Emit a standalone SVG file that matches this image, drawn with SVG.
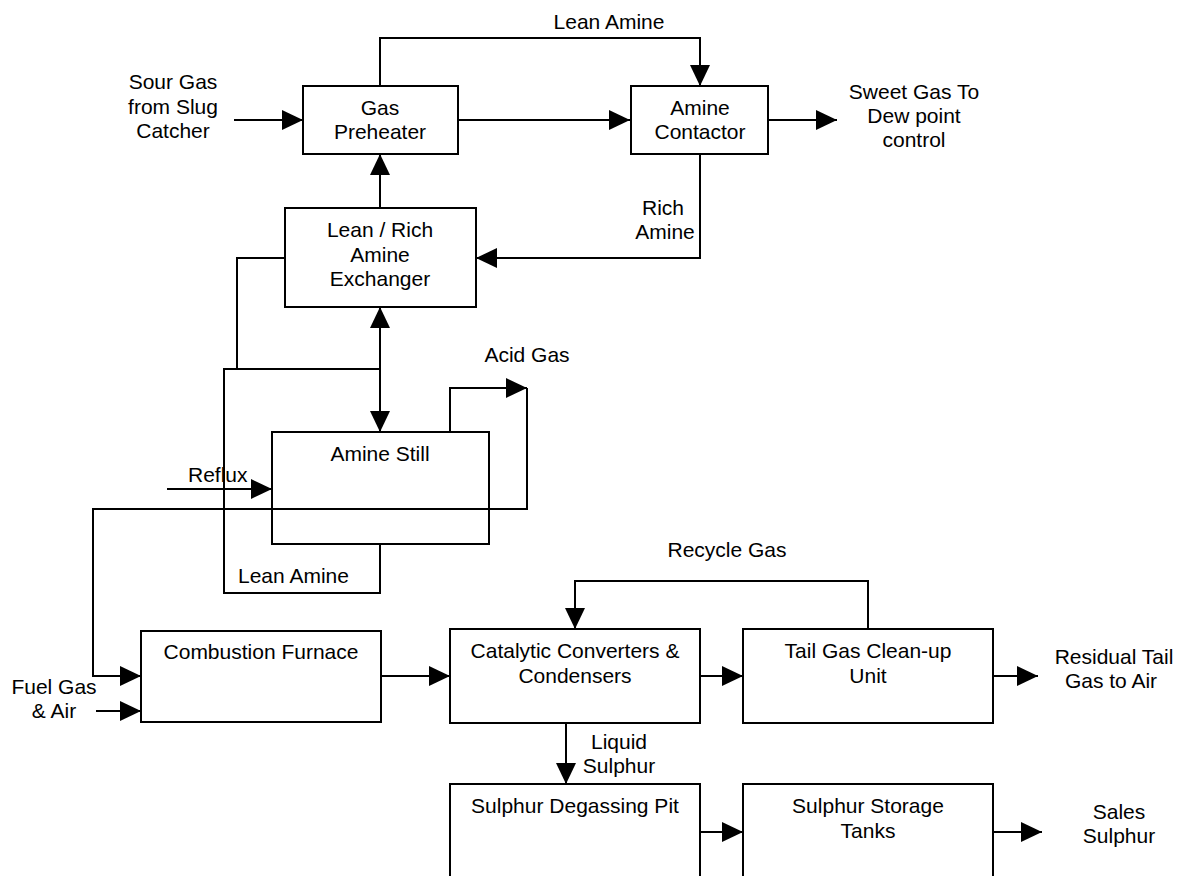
<svg xmlns="http://www.w3.org/2000/svg" width="1185" height="876" viewBox="0 0 1185 876">
<style>
.box{fill:#fff;stroke:#000;stroke-width:2}
.ln{fill:none;stroke:#000;stroke-width:2}
text{font-family:"Liberation Sans",Arial,sans-serif;font-size:21px;fill:#000}
.c{text-anchor:middle}
</style>
<defs>
<marker id="ah" markerUnits="userSpaceOnUse" markerWidth="21" markerHeight="20" refX="21" refY="10" orient="auto-start-reverse" viewBox="0 0 21 20">
<path d="M0,0 L21,10 L0,20 z" fill="#000"/>
</marker>
</defs>
<rect width="1185" height="876" fill="#fff"/>
<g id="connectors">
<path class="ln" d="M234,120 H303" marker-end="url(#ah)"/>
<path class="ln" d="M458,120 H630" marker-end="url(#ah)"/>
<path class="ln" d="M768,120 H837" marker-end="url(#ah)"/>
<path class="ln" d="M380,86 V38 H700 V86" marker-end="url(#ah)"/>
<path class="ln" d="M700,154 V258 H476" marker-end="url(#ah)"/>
<path class="ln" d="M380,208 V154" marker-end="url(#ah)"/>
<path class="ln" d="M285,258 H237 V369"/>
<path class="ln" d="M380,307 V432" marker-start="url(#ah)" marker-end="url(#ah)"/>
<path class="ln" d="M380,544 V593 H224 V369 H380"/>
<path class="ln" d="M450,432 V388 H527" marker-end="url(#ah)"/>
<path class="ln" d="M527,388 V509 H93 V676 H141" marker-end="url(#ah)"/>
<path class="ln" d="M167,489 H272" marker-end="url(#ah)"/>
<path class="ln" d="M96,711 H141" marker-end="url(#ah)"/>
<path class="ln" d="M381,676 H450" marker-end="url(#ah)"/>
<path class="ln" d="M700,676 H743" marker-end="url(#ah)"/>
<path class="ln" d="M993,676 H1038" marker-end="url(#ah)"/>
<path class="ln" d="M868,629 V581 H575 V629" marker-end="url(#ah)"/>
<path class="ln" d="M566,723 V784" marker-end="url(#ah)"/>
<path class="ln" d="M700,832 H743" marker-end="url(#ah)"/>
<path class="ln" d="M993,832 H1042" marker-end="url(#ah)"/>
</g>
<g id="labels">
<text class="c" x="173" y="89">Sour Gas</text>
<text class="c" x="173" y="114">from Slug</text>
<text class="c" x="173" y="138">Catcher</text>
<text class="c" x="609" y="29">Lean Amine</text>
<text class="c" x="914" y="99">Sweet Gas To</text>
<text class="c" x="914" y="123">Dew point</text>
<text class="c" x="914" y="147">control</text>
<text class="c" x="663" y="215">Rich</text>
<text class="c" x="665" y="239">Amine</text>
<text class="c" x="527" y="362">Acid Gas</text>
<text x="188" y="482">Reflux</text>
<text x="238" y="583">Lean Amine</text>
<text class="c" x="727" y="557">Recycle Gas</text>
<text class="c" x="54" y="694">Fuel Gas</text>
<text class="c" x="54" y="718">&amp; Air</text>
<text class="c" x="1114" y="664">Residual Tail</text>
<text class="c" x="1111" y="688">Gas to Air</text>
<text class="c" x="619" y="749">Liquid</text>
<text class="c" x="619" y="773">Sulphur</text>
<text class="c" x="1119" y="819">Sales</text>
<text class="c" x="1119" y="843">Sulphur</text>
</g>
<g id="gas-preheater">
<rect class="box" x="303" y="86" width="155" height="68"/>
<text class="c" x="380" y="115">Gas</text>
<text class="c" x="380" y="139">Preheater</text>
</g>
<g id="amine-contactor">
<rect class="box" x="631" y="86" width="137" height="68"/>
<text class="c" x="700" y="115">Amine</text>
<text class="c" x="700" y="139">Contactor</text>
</g>
<g id="lean-rich-exchanger">
<rect class="box" x="285" y="208" width="191" height="99"/>
<text class="c" x="380" y="237">Lean / Rich</text>
<text class="c" x="380" y="262">Amine</text>
<text class="c" x="380" y="286">Exchanger</text>
</g>
<g id="amine-still">
<rect class="box" x="272" y="432" width="217" height="112" fill-opacity="0"/>
<text class="c" x="380" y="461">Amine Still</text>
</g>
<g id="combustion-furnace">
<rect class="box" x="141" y="631" width="240" height="91"/>
<text class="c" x="261" y="659">Combustion Furnace</text>
</g>
<g id="catalytic-converters">
<rect class="box" x="450" y="629" width="250" height="94"/>
<text class="c" x="575" y="658">Catalytic Converters &amp;</text>
<text class="c" x="575" y="683">Condensers</text>
</g>
<g id="tail-gas-cleanup">
<rect class="box" x="743" y="629" width="250" height="94"/>
<text class="c" x="868" y="658">Tail Gas Clean-up</text>
<text class="c" x="868" y="683">Unit</text>
</g>
<g id="sulphur-degassing-pit">
<rect class="box" x="450" y="784" width="250" height="120"/>
<text class="c" x="575" y="813">Sulphur Degassing Pit</text>
</g>
<g id="sulphur-storage-tanks">
<rect class="box" x="743" y="784" width="250" height="120"/>
<text class="c" x="868" y="813">Sulphur Storage</text>
<text class="c" x="868" y="838">Tanks</text>
</g>
</svg>
